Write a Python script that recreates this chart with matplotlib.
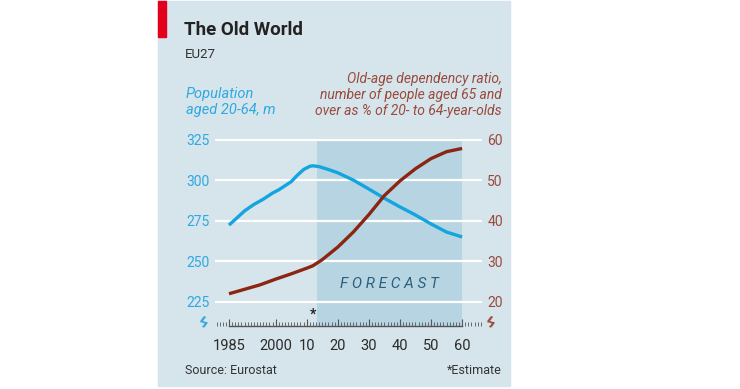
import matplotlib
matplotlib.use("Agg")
import matplotlib.pyplot as plt
from matplotlib.patches import Rectangle
from matplotlib.ticker import FixedLocator, MultipleLocator

# population aged 20-64, millions (left axis)
pop_years = [1985, 1988, 1990, 1993, 1996, 1999, 2001, 2003, 2005, 2007, 2009,
             2011, 2012, 2014, 2017, 2020, 2025, 2030, 2035, 2040, 2045, 2050,
             2055, 2060]
pop_values = [272.3, 277.5, 281.0, 285.0, 288.2, 292.0, 294.0, 296.5, 299.0,
              303.0, 306.5, 308.5, 308.8, 308.3, 306.5, 304.5, 300.0, 294.5,
              288.8, 283.5, 278.5, 273.0, 268.0, 265.0]

# old-age dependency ratio, % (right axis)
ratio_years = [1985, 1990, 1995, 2000, 2005, 2010, 2012, 2015, 2020, 2025,
               2030, 2035, 2040, 2045, 2050, 2055, 2060]
ratio_values = [22.0, 23.1, 24.2, 25.6, 26.9, 28.3, 28.9, 30.4, 33.5, 37.2,
                41.5, 46.2, 49.8, 52.8, 55.3, 57.0, 57.8]

forecast_start = 2013.3
forecast_end = 2060
estimate_year = 2012

label_years = [1985, 2000, 2010, 2020, 2030, 2040, 2050, 2060]
label_text = ["1985", "2000", "10", "20", "30", "40", "50", "60"]
left_ticks = [225, 250, 275, 300, 325]
right_ticks = [20, 30, 40, 50, 60]

BG = "#d6e4eb"
SHADE = "#b6d4e1"
BLUE = "#12a5e0"
RED = "#8a2612"
BLUE_TXT = "#2fa9e0"
RED_TXT = "#9a4a3c"
DARK = "#333333"

plt.rcParams["font.family"] = ["Roboto", "DejaVu Sans"]

W, H = 740, 389
fig = plt.figure(figsize=(W / 100, H / 100), dpi=100)
fig.patch.set_facecolor("white")

def fx(px):
    return px / W

def fy(py):
    return 1 - py / H

# panel background and red flag
fig.patches.append(Rectangle((fx(158), fy(386)), fx(352), (386 - 1) / H,
                             transform=fig.transFigure, color=BG, zorder=-2))
fig.patches.append(Rectangle((fx(158), fy(37)), fx(8), 36 / H,
                             transform=fig.transFigure, color="#e3001b", zorder=-1))

ax = fig.add_axes([fx(215), fy(326), fx(481.7 - 215), (326 - 139.5) / H])
ax.set_facecolor("none")
ax.set_xlim(1980.5, 2066.3)
ax.set_ylim(210.15, 325)

ax2 = ax.twinx()
ax2.set_ylim(14.06, 60)

ax.axvspan(forecast_start, forecast_end, color=SHADE, zorder=0, lw=0)
for t in left_ticks:
    ax.axhline(t, color="white", lw=1.6, zorder=1)

ax.plot(pop_years, pop_values, color=BLUE, lw=2.4, zorder=3,
        solid_capstyle="butt", solid_joinstyle="round")
ax2.plot(ratio_years, ratio_values, color=RED, lw=2.4, zorder=3,
         solid_capstyle="butt", solid_joinstyle="round")

for a in (ax, ax2):
    for s in ("top", "left", "right"):
        a.spines[s].set_visible(False)
ax2.spines["bottom"].set_visible(False)
ax.spines["bottom"].set_bounds(1985, 2060)
ax.spines["bottom"].set_color("#555555")
ax.spines["bottom"].set_linewidth(1.0)

ax.xaxis.set_major_locator(FixedLocator(label_years))
ax.set_xticklabels(label_text)
ax.xaxis.set_minor_locator(MultipleLocator(1))
ax.tick_params(axis="x", which="major", direction="in", length=5, width=0.8,
               color="#555555", pad=9, labelsize=10.5, labelcolor="#2b2b2b")
ax.tick_params(axis="x", which="minor", direction="in", length=3, width=0.6,
               color="#555555")

ax.set_yticks(left_ticks)
ax.tick_params(axis="y", length=0, pad=4, labelsize=10, labelcolor=BLUE_TXT)
ax2.set_yticks(right_ticks)
ax2.tick_params(axis="y", length=0, pad=4, labelsize=10, labelcolor=RED_TXT)

ax.text((forecast_start + forecast_end) / 2, 236, "F O R E C A S T",
        ha="center", va="center", fontsize=11, style="italic",
        color="#2b5f7c", zorder=4)
ax.text(estimate_year, 210.15 + 3, "*", ha="center", va="bottom",
        fontsize=10, fontweight="bold", color="#222222", zorder=4)

# axis break marks
fig.text(fx(203), fy(323), "ϟ", ha="center", va="center", fontsize=11,
         fontweight="bold", color=BLUE_TXT, rotation=-15)
fig.text(fx(490), fy(323), "ϟ", ha="center", va="center", fontsize=11,
         fontweight="bold", color=RED_TXT, rotation=-15)

fig.text(fx(184), fy(30), "The Old World", ha="left", va="center",
         fontsize=13.5, fontweight="bold", color="#222222")
fig.text(fx(185), fy(54), "EU27", ha="left", va="center", fontsize=9.5,
         color=DARK)
fig.text(fx(186), fy(102), "Population\naged 20-64, m", ha="left",
         va="center", fontsize=10.5, style="italic", color=BLUE_TXT,
         linespacing=1.15)
fig.text(fx(502), fy(95), "Old-age dependency ratio,\nnumber of people aged 65 and\n"
         "over as % of 20- to 64-year-olds", ha="right", va="center",
         fontsize=10, style="italic", color=RED_TXT, linespacing=1.15)
fig.text(fx(185), fy(371), "Source: Eurostat", ha="left", va="center",
         fontsize=9, color=DARK)
fig.text(fx(502), fy(371), "*Estimate", ha="right", va="center",
         fontsize=9, color=DARK)

fig.savefig("out.png", dpi=100, facecolor=fig.get_facecolor())
